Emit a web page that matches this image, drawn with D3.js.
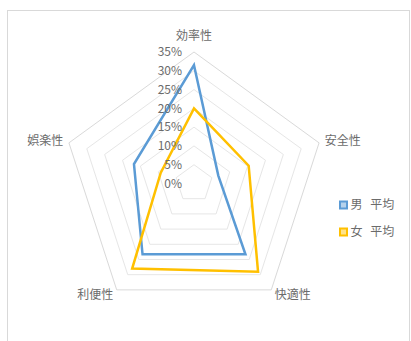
<!DOCTYPE html>
<html>
<head>
<meta charset="utf-8">
<script src="https://cdn.jsdelivr.net/npm/d3@7"></script>
<style>
  html, body { margin: 0; padding: 0; background: #fff; }
  svg { display: block; }
  text { font-family: "Noto Sans CJK JP", "Noto Sans", sans-serif; fill: #6b6b6b; }
</style>
</head>
<body>
<svg id="chart" width="411" height="341"></svg>
<script>
// Radar axes, clockwise from the top
const categories = ["効率性", "安全性", "快適性", "利便性", "娯楽性"];
// Average share per axis (%)
const maleValues = [31.5, 6.8, 23.3, 23.3, 16.8];
const femaleValues = [20, 15.3, 29, 28, 9.3];
const seriesNames = ["男 平均", "女 平均"];
const seriesColors = ["#5B9BD5", "#FFC000"];
const tickValues = [0, 5, 10, 15, 20, 25, 30, 35];
const tickLabels = ["0%", "5%", "10%", "15%", "20%", "25%", "30%", "35%"];

const svg = d3.select("#chart");
const cx = 194, cy = 183.5, R = 131.5;

// outer frame of the chart area
svg.append("rect")
  .attr("x", 7.5).attr("y", 10.5)
  .attr("width", 402).attr("height", 340)
  .attr("fill", "none").attr("stroke", "#d9d9d9").attr("stroke-width", 1);

const r = d3.scaleLinear().domain([0, 35]).range([0, R]);
const n = categories.length;
const angle = i => i * 2 * Math.PI / n;

const g = svg.append("g").attr("transform", `translate(${cx},${cy})`);

// grid rings
const ring = d3.lineRadial()
  .angle((d, i) => angle(i))
  .radius(d => r(d))
  .curve(d3.curveLinearClosed);

g.selectAll("path.ring")
  .data(tickValues.filter(v => v > 0))
  .join("path")
  .attr("class", "ring")
  .attr("d", v => ring(categories.map(() => v)))
  .attr("fill", "none")
  .attr("stroke", v => v === 35 ? "#d9d9d9" : "#e6e6e6")
  .attr("stroke-width", 1);

// series polygons
const series = [maleValues, femaleValues];
const line = d3.lineRadial()
  .angle((d, i) => angle(i))
  .radius(d => r(d))
  .curve(d3.curveLinearClosed);

g.selectAll("path.series")
  .data(series)
  .join("path")
  .attr("class", "series")
  .attr("d", d => line(d))
  .attr("fill", "none")
  .attr("stroke", (d, i) => seriesColors[i])
  .attr("stroke-width", 2.5)
  .attr("stroke-linejoin", "miter");

// value axis tick labels
g.selectAll("text.tick")
  .data(tickValues)
  .join("text")
  .attr("class", "tick")
  .attr("x", -12)
  .attr("y", v => -r(v))
  .attr("dy", "0.35em")
  .attr("text-anchor", "end")
  .attr("font-size", 12)
  .text((v, i) => tickLabels[i]);

// category labels
g.selectAll("text.cat")
  .data(categories)
  .join("text")
  .attr("class", "cat")
  .each(function (d, i) {
    const a = angle(i);
    const s = Math.sin(a), c = Math.cos(a);
    const off = Math.abs(s) < 0.1 ? 16 : 6;
    d3.select(this)
      .attr("x", (R + off) * s)
      .attr("y", -(R + off) * c)
      .attr("dy", "0.35em")
      .attr("text-anchor", s > 0.1 ? "start" : (s < -0.1 ? "end" : "middle"));
  })
  .attr("font-size", 12)
  .text(d => d);

// legend
const legend = svg.append("g").attr("transform", "translate(340,205)");
const item = legend.selectAll("g")
  .data(seriesNames)
  .join("g")
  .attr("transform", (d, i) => `translate(0,${i * 27})`);
item.append("rect")
  .attr("x", 0).attr("y", -3.5)
  .attr("width", 7).attr("height", 7)
  .attr("fill", (d, i) => d3.interpolateRgb(seriesColors[i], "#fff")(0.55))
  .attr("stroke", (d, i) => seriesColors[i])
  .attr("stroke-width", 2);
item.append("text")
  .attr("x", 10.5)
  .attr("y", 0)
  .attr("dy", "0.35em")
  .attr("font-size", 12)
  .style("word-spacing", "5px")
  .text(d => d);
</script>
</body>
</html>
